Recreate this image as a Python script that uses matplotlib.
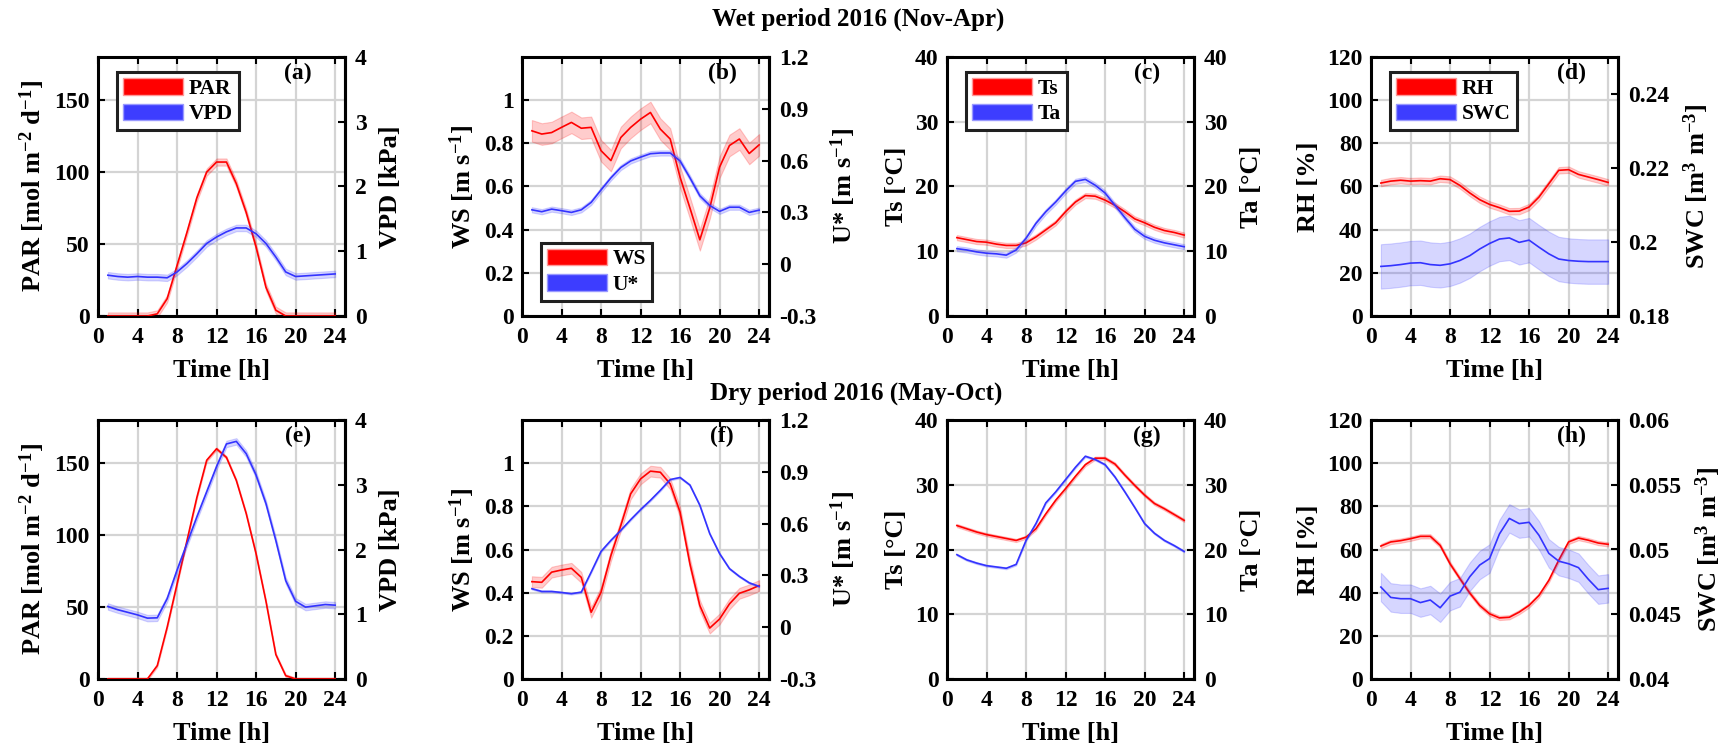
import matplotlib
matplotlib.use("Agg")
import matplotlib.pyplot as plt
from matplotlib.patches import Patch
import numpy as np

plt.rcParams['font.family'] = ['Liberation Serif', 'DejaVu Serif']
plt.rcParams['font.weight'] = 'bold'
plt.rcParams['axes.labelweight'] = 'bold'
plt.rcParams['mathtext.default'] = 'regular'

hours = list(range(1, 25))

# ---- Wet period (Nov-Apr) ----
par_wet = [0, 0, 0, 0, 0, 1.5, 12, 35, 58, 82, 100, 107, 107, 92, 72, 48, 20, 4, 0, 0, 0, 0, 0, 0]
par_wet_err = 2.5
vpd_wet = [0.63, 0.61, 0.60, 0.61, 0.60, 0.60, 0.59, 0.68, 0.81, 0.96, 1.12, 1.22, 1.30, 1.36, 1.36, 1.27,
           1.12, 0.91, 0.68, 0.61, 0.62, 0.63, 0.64, 0.65]
vpd_wet_err = 0.05
ws_wet = [0.858, 0.843, 0.85, 0.874, 0.897, 0.87, 0.874, 0.766, 0.72, 0.827, 0.874, 0.912, 0.943, 0.866,
          0.82, 0.643, 0.50, 0.353, 0.50, 0.69, 0.79, 0.82, 0.753, 0.793]
ws_wet_err = 0.05
us_wet = [0.315, 0.304, 0.319, 0.31, 0.30, 0.315, 0.358, 0.43, 0.50, 0.56, 0.598, 0.62, 0.64, 0.644, 0.644,
          0.598, 0.50, 0.396, 0.34, 0.306, 0.33, 0.33, 0.30, 0.313]
us_wet_err = 0.015
ts_wet = [12.1, 11.8, 11.5, 11.4, 11.1, 10.9, 10.9, 11.3, 12.2, 13.3, 14.4, 16.1, 17.6, 18.6, 18.5, 17.9,
          17.1, 16.1, 15.0, 14.4, 13.7, 13.2, 12.9, 12.5]
ts_wet_err = 0.4
ta_wet = [10.4, 10.2, 9.9, 9.7, 9.6, 9.4, 10.2, 12.0, 14.3, 16.1, 17.6, 19.3, 20.8, 21.1, 20.2, 19.0,
          17.1, 15.2, 13.4, 12.3, 11.7, 11.3, 11.0, 10.7]
ta_wet_err = 0.4
rh_wet = [61.6, 62.5, 62.9, 62.5, 62.7, 62.5, 63.6, 63.2, 60.5, 57.0, 53.9, 51.7, 50.2, 48.5, 48.6, 50.5,
          55.1, 61.3, 67.5, 67.8, 65.6, 64.4, 63.2, 61.9]
rh_wet_err = 1.5
swc_wet = [0.1934, 0.1936, 0.1939, 0.1943, 0.1944, 0.1939, 0.1937, 0.1941, 0.1950, 0.1963, 0.1981, 0.1996,
           0.2008, 0.2011, 0.1999, 0.2005, 0.1986, 0.1968, 0.1954, 0.1950, 0.1948, 0.1947, 0.1947, 0.1947]
swc_wet_err = 0.006

# ---- Dry period (May-Oct) ----
par_dry = [0, 0, 0, 0, 0, 9.3, 36, 66, 96, 126, 152, 160, 154, 138, 115, 87, 54, 17, 2.3, 0, 0, 0, 0, 0]
par_dry_err = 1.0
vpd_dry = [1.12, 1.07, 1.03, 0.99, 0.94, 0.945, 1.24, 1.68, 2.09, 2.50, 2.89, 3.28, 3.63, 3.67, 3.48, 3.15,
           2.71, 2.14, 1.52, 1.20, 1.11, 1.13, 1.15, 1.14]
vpd_dry_err = 0.05
ws_dry = [0.451, 0.448, 0.495, 0.505, 0.513, 0.471, 0.309, 0.402, 0.572, 0.711, 0.858, 0.927, 0.963, 0.958,
          0.904, 0.773, 0.533, 0.34, 0.236, 0.278, 0.348, 0.397, 0.413, 0.433]
ws_dry_err = 0.025
us_dry = [0.223, 0.207, 0.207, 0.201, 0.194, 0.203, 0.319, 0.439, 0.503, 0.561, 0.623, 0.681, 0.735, 0.793,
          0.855, 0.867, 0.823, 0.706, 0.542, 0.426, 0.339, 0.294, 0.257, 0.236]
us_dry_err = 0.005
ts_dry = [23.7, 23.2, 22.7, 22.3, 22.0, 21.7, 21.4, 21.9, 23.2, 25.5, 27.6, 29.4, 31.3, 33.1, 34.1, 34.1,
          33.2, 31.5, 29.9, 28.4, 27.1, 26.3, 25.4, 24.5]
ts_dry_err = 0.25
ta_dry = [19.2, 18.4, 17.9, 17.5, 17.3, 17.1, 17.7, 21.4, 24.0, 27.2, 28.9, 30.8, 32.7, 34.4, 33.9, 33.1,
          31.2, 28.9, 26.5, 24.0, 22.5, 21.4, 20.6, 19.7]
ta_dry_err = 0.15
rh_dry = [61.6, 63.5, 64.1, 65.0, 66.1, 66.1, 61.9, 53.4, 46.5, 39.8, 34.1, 30.2, 28.3, 28.6, 31.0, 34.1,
          38.7, 45.7, 55.0, 63.5, 65.3, 64.3, 63.0, 62.4]
rh_dry_err = 1.0
swc_dry = [0.0471, 0.0463, 0.0462, 0.0462, 0.0459, 0.0461, 0.0455, 0.0464, 0.0467, 0.0479, 0.0488, 0.0493,
           0.0512, 0.0524, 0.0520, 0.0521, 0.0511, 0.0497, 0.0491, 0.0489, 0.0486, 0.0477, 0.0469, 0.0470]
swc_dry_err = 0.0011

xticks = [0, 4, 8, 12, 16, 20, 24]

RED = (1.0, 0.0, 0.0)
BLUE = (0.2, 0.2, 1.0)

panels = [
    (0, 0, par_wet, par_wet_err, vpd_wet, vpd_wet_err, (0, 180), [0, 50, 100, 150], (0, 4), [0, 1, 2, 3, 4],
     'PAR [mol m$^{-2}$ d$^{-1}$]', 'VPD [kPa]', '(a)', ('PAR', 'VPD', 'ul')),
    (0, 1, ws_wet, ws_wet_err, us_wet, us_wet_err, (0, 1.2), [0, 0.2, 0.4, 0.6, 0.8, 1],
     (-0.3, 1.2), [-0.3, 0, 0.3, 0.6, 0.9, 1.2],
     'WS [m s$^{-1}$]', 'U* [m s$^{-1}$]', '(b)', ('WS', 'U*', 'll')),
    (0, 2, ts_wet, ts_wet_err, ta_wet, ta_wet_err, (0, 40), [0, 10, 20, 30, 40], (0, 40), [0, 10, 20, 30, 40],
     'Ts [°C]', 'Ta [°C]', '(c)', ('Ts', 'Ta', 'ul')),
    (0, 3, rh_wet, rh_wet_err, swc_wet, swc_wet_err, (0, 120), [0, 20, 40, 60, 80, 100, 120],
     (0.18, 0.25), [0.18, 0.2, 0.22, 0.24],
     'RH [%]', 'SWC [m$^{3}$ m$^{-3}$]', '(d)', ('RH', 'SWC', 'ul')),
    (1, 0, par_dry, par_dry_err, vpd_dry, vpd_dry_err, (0, 180), [0, 50, 100, 150], (0, 4), [0, 1, 2, 3, 4],
     'PAR [mol m$^{-2}$ d$^{-1}$]', 'VPD [kPa]', '(e)', None),
    (1, 1, ws_dry, ws_dry_err, us_dry, us_dry_err, (0, 1.2), [0, 0.2, 0.4, 0.6, 0.8, 1],
     (-0.3, 1.2), [-0.3, 0, 0.3, 0.6, 0.9, 1.2],
     'WS [m s$^{-1}$]', 'U* [m s$^{-1}$]', '(f)', None),
    (1, 2, ts_dry, ts_dry_err, ta_dry, ta_dry_err, (0, 40), [0, 10, 20, 30, 40], (0, 40), [0, 10, 20, 30, 40],
     'Ts [°C]', 'Ta [°C]', '(g)', None),
    (1, 3, rh_dry, rh_dry_err, swc_dry, swc_dry_err, (0, 120), [0, 20, 40, 60, 80, 100, 120],
     (0.04, 0.06), [0.04, 0.045, 0.05, 0.055, 0.06],
     'RH [%]', 'SWC [m$^{3}$ m$^{-3}$]', '(h)', None),
]

W, H = 1733, 749
fig = plt.figure(figsize=(W / 100, H / 100), dpi=100)

lefts = [98, 522, 947, 1371]
tops = [57, 420]
aw, ah = 247, 259

TICK_FS = 17
LABEL_FS = 19
LEG_FS = 15.5


def fmt(v):
    return '%g' % v


def band(ax, x, y, e, color):
    y = np.asarray(y, dtype=float)
    ax.fill_between(x, y - e, y + e, facecolor=color, alpha=0.2, edgecolor=color, linewidth=0.8)
    ax.plot(x, y, color=color, lw=1.2, zorder=3)


for (r, c, ld, le, rd, re_, lyl, lyt, ryl, ryt, lyla, ryla, tag, leg) in panels:
    l = lefts[c]
    t = tops[r]
    ax = fig.add_axes([l / W, 1 - (t + ah) / H, aw / W, ah / H])
    ax2 = ax.twinx()
    band(ax, hours, ld, le, RED)
    band(ax2, hours, rd, re_, BLUE)
    ax.set_xlim(0, 25)
    ax.set_xticks(xticks)
    ax.set_xticklabels([str(v) for v in xticks])
    ax.set_ylim(*lyl)
    ax.set_yticks(lyt)
    ax.set_yticklabels([fmt(v) for v in lyt])
    ax2.set_ylim(*ryl)
    ax2.set_yticks(ryt)
    ax2.set_yticklabels([fmt(v) for v in ryt])
    ax.grid(True, color='#d4d4d4', lw=1.6)
    ax.set_axisbelow(True)
    for sp in ax.spines.values():
        sp.set_linewidth(2.2)
    for name, sp in ax2.spines.items():
        if name == 'right':
            sp.set_linewidth(2.2)
        else:
            sp.set_visible(False)
    ax.tick_params(axis='both', direction='in', length=5, width=1.5, labelsize=TICK_FS, pad=6,
                   top=True)
    ax.tick_params(axis='x', pad=8)
    ax2.tick_params(axis='y', direction='in', length=5, width=1.5, labelsize=TICK_FS, pad=7)
    ax.set_xlabel('Time [h]', fontsize=LABEL_FS, labelpad=8)
    ax.set_ylabel(lyla, fontsize=LABEL_FS, labelpad=5)
    ax2.set_ylabel(ryla, fontsize=LABEL_FS, labelpad=9)
    ax.text(0.81, 0.935, tag, transform=ax.transAxes, fontsize=TICK_FS, fontweight='bold',
            ha='center', va='center')
    if leg is not None:
        handles = [Patch(facecolor=RED, edgecolor=(1, 0.6, 0.6), lw=1),
                   Patch(facecolor=(0.24, 0.24, 1.0), edgecolor=(0.6, 0.6, 1.0), lw=1)]
        if leg[2] == 'ul':
            kw = dict(loc='upper left', bbox_to_anchor=(0.077, 0.942))
        else:
            kw = dict(loc='lower left', bbox_to_anchor=(0.077, 0.058))
        lg = ax2.legend(handles, [leg[0], leg[1]], fontsize=LEG_FS, handlelength=2.8,
                        handleheight=0.8, handletextpad=0.25, labelspacing=0.22,
                        borderpad=0.28, borderaxespad=0, fancybox=False, framealpha=1,
                        edgecolor='#202020', **kw)
        lg.get_frame().set_linewidth(2.2)
        for txt in lg.get_texts():
            txt.set_fontweight('bold')

fig.text(858 / W, 1 - 19 / H, 'Wet period 2016 (Nov-Apr)', ha='center', va='center',
         fontsize=18, fontweight='bold')
fig.text(856 / W, 1 - 393 / H, 'Dry period 2016 (May-Oct)', ha='center', va='center',
         fontsize=18, fontweight='bold')

fig.savefig('out.png', dpi=100)
